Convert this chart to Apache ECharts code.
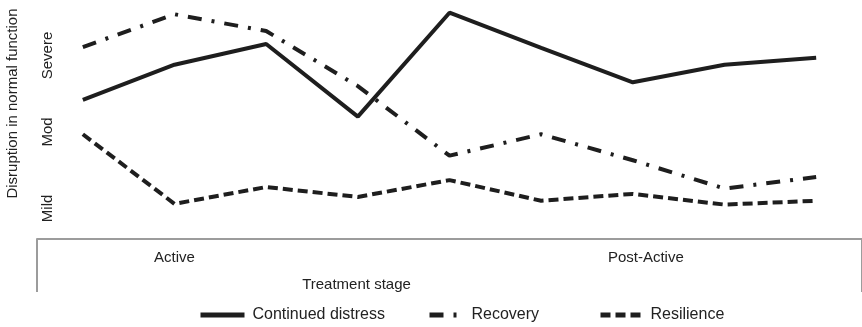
<!DOCTYPE html>
<html>
<head>
<meta charset="utf-8">
<script src="https://cdn.jsdelivr.net/npm/echarts@6/dist/echarts.min.js"></script>
<style>
  html, body { margin: 0; padding: 0; background: #fff; }
  #myChart { width: 862px; height: 327px; }
</style>
</head>
<body>
<div id="myChart"></div>
<script>
// 9 time points across treatment
var timepoints = ["T1", "T2", "T3", "T4", "T5", "T6", "T7", "T8", "T9"];
// stage label shown under a time point ('' = none)
var stageLabels = ["", "Active", "", "", "", "", "Post-Active", "", ""];
// severity scale: 1 = Mild, 2 = Mod, 3 = Severe
var severityTicks = [1, 2, 3];
var severityLabels = ["Mild", "Mod", "Severe"];

var continuedDistress = [2.42, 2.88, 3.15, 2.2, 3.56, 3.1, 2.65, 2.88, 2.97];
var recovery = [3.11, 3.54, 3.32, 2.6, 1.69, 1.97, 1.63, 1.26, 1.41];
var resilience = [1.97, 1.06, 1.28, 1.15, 1.37, 1.1, 1.19, 1.05, 1.1];

var lineColor = "#1e1e1e";
var font = "Liberation Sans";

var myChart = echarts.init(document.getElementById("myChart"));

function legendFor(name, left, w) {
  return {
    data: [name],
    left: left,
    top: 307,
    padding: 0,
    itemWidth: w,
    itemHeight: 14,
    itemStyle: { opacity: 0 },
    lineStyle: { width: 5 },
    textStyle: { fontFamily: font, fontSize: 16, color: "#222", padding: [0, 0, 0, 3] }
  };
}

var option = {
  backgroundColor: "#fff",
  animation: false,
  legend: [
    legendFor("Continued distress", 198, 44),
    legendFor("Recovery", 427, 34),
    legendFor("Resilience", 598, 42)
  ],
  grid: { left: 37, right: 0, top: 2, bottom: 88, outerBoundsMode: "none" },
  xAxis: {
    type: "category",
    data: timepoints,
    boundaryGap: true,
    axisLine: { lineStyle: { color: "#9c9c9c", width: 2 } },
    axisTick: {
      show: true,
      interval: function (i) { return i === 0; },
      length: 53,
      lineStyle: { color: "#9c9c9c", width: 2 }
    },
    axisLabel: {
      interval: 0,
      margin: 11,
      fontFamily: font,
      fontSize: 15,
      color: "#222",
      formatter: function (v, i) {
        var s = stageLabels[i];
        return i === 6 ? "{p|" + s + "}" : s;
      },
      rich: { p: { padding: [0, 0, 0, 26], fontFamily: font, fontSize: 15, color: "#222" } }
    },
    name: "Treatment stage",
    nameLocation: "middle",
    nameGap: 38,
    nameTextStyle: { fontFamily: font, fontSize: 15, color: "#222", padding: [0, 186, 0, 0] }
  },
  yAxis: {
    type: "value",
    min: 0.6,
    max: 3.7,
    offset: -20,
    axisLine: { show: false },
    axisTick: { show: false },
    splitLine: { show: false },
    axisLabel: {
      customValues: severityTicks,
      rotate: 90,
      margin: 2,
      fontFamily: font,
      fontSize: 15,
      color: "#222",
      formatter: function (v) {
        var k = severityTicks.indexOf(Math.round(v));
        return k >= 0 ? severityLabels[k] : "";
      }
    },
    name: "Disruption in normal function",
    nameLocation: "middle",
    nameGap: 37,
    nameTextStyle: { fontFamily: font, fontSize: 15, color: "#222", padding: [0, 0, 0, 34] }
  },
  series: [
    {
      name: "Continued distress",
      type: "line",
      data: continuedDistress,
      symbol: "none",
      lineStyle: { color: lineColor, width: 4, type: "solid" },
      itemStyle: { color: lineColor }
    },
    {
      name: "Recovery",
      type: "line",
      data: recovery,
      symbol: "none",
      lineStyle: { color: lineColor, width: 4, type: [14, 10, 3, 10] },
      itemStyle: { color: lineColor }
    },
    {
      name: "Resilience",
      type: "line",
      data: resilience,
      symbol: "none",
      lineStyle: { color: lineColor, width: 4, type: [10, 5] },
      itemStyle: { color: lineColor }
    }
  ]
};
myChart.setOption(option);
</script>
</body>
</html>
